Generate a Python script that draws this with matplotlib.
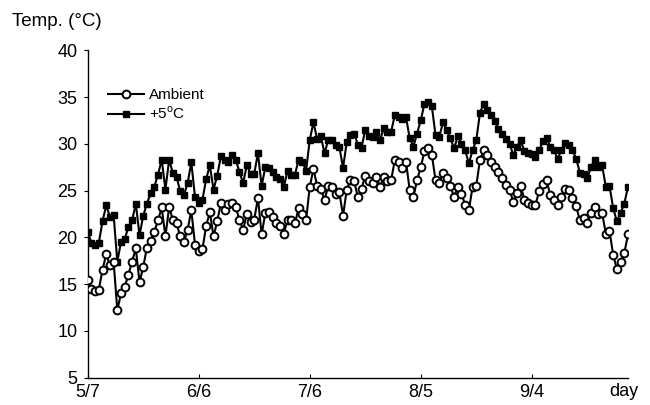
import matplotlib
matplotlib.use("Agg")
import matplotlib.pyplot as plt
import numpy as np

plt.rcParams['font.family'] = ['Liberation Sans', 'DejaVu Sans']

# Daily mean temperature, 5/7 .. 9/30 (day index 0..146)
ambient = [
    15.4, 14.5, 14.3, 14.4, 16.5, 18.2, 17.0, 17.4, 12.2, 14.0,
    14.7, 16.0, 17.4, 18.8, 15.2, 16.8, 18.9, 19.6, 20.6, 21.8,
    23.2, 20.1, 23.2, 21.9, 21.5, 20.1, 19.5, 20.8, 22.9, 19.2,
    18.5, 18.7, 21.2, 22.7, 20.1, 21.7, 23.7, 22.9, 23.6, 23.7,
    23.2, 21.9, 20.8, 22.5, 21.6, 21.9, 24.2, 20.3, 22.6, 22.7,
    22.2, 21.5, 21.2, 20.4, 21.9, 21.8, 21.5, 23.1, 22.5, 21.8,
    25.4, 27.3, 25.5, 25.2, 24.0, 25.5, 25.4, 24.6, 24.8, 22.3,
    25.1, 26.1, 26.0, 24.3, 25.2, 26.6, 26.0, 25.8, 26.4, 25.4,
    26.5, 26.0, 26.1, 28.3, 28.0, 27.4, 28.1, 25.1, 24.3, 26.1,
    27.5, 29.2, 29.5, 28.8, 26.1, 25.8, 26.9, 26.3, 25.5, 24.3,
    25.4, 24.6, 23.5, 22.9, 25.4, 25.5, 28.3, 29.3, 28.8, 28.1,
    27.5, 27.0, 26.3, 25.6, 25.1, 23.8, 24.7, 25.5, 24.0, 23.7,
    23.5, 23.5, 24.9, 25.7, 26.1, 24.5, 24.0, 23.4, 24.3, 25.2,
    25.1, 24.2, 23.3, 21.8, 22.1, 21.5, 22.6, 23.2, 22.5, 22.6,
    20.4, 20.7, 18.1, 16.6, 17.4, 18.3, 20.3,
]
plus5 = [
    20.6, 19.4, 19.2, 19.4, 21.7, 23.4, 22.2, 22.4, 17.4, 19.5,
    19.8, 21.1, 21.8, 23.6, 20.2, 22.3, 23.6, 24.7, 25.4, 26.7,
    28.3, 25.1, 28.3, 26.9, 26.5, 24.9, 24.5, 25.8, 28.0, 24.3,
    23.7, 24.0, 26.2, 27.7, 25.1, 26.6, 28.7, 28.3, 28.1, 28.8,
    28.3, 27.0, 25.8, 27.7, 26.8, 26.8, 29.0, 25.5, 27.5, 27.4,
    27.0, 26.5, 26.2, 25.4, 27.1, 26.7, 26.7, 28.3, 28.1, 27.1,
    30.4, 32.3, 30.5, 30.8, 29.0, 30.4, 30.4, 29.9, 29.7, 27.4,
    30.2, 30.9, 31.1, 29.9, 29.6, 31.5, 30.8, 30.7, 31.3, 30.4,
    31.7, 31.3, 31.3, 33.1, 32.9, 32.6, 32.9, 30.6, 29.7, 31.1,
    32.5, 34.3, 34.5, 34.0, 30.9, 30.7, 32.3, 31.5, 30.6, 29.5,
    30.8, 30.0, 29.3, 27.9, 29.3, 30.4, 33.3, 34.3, 33.6, 33.1,
    32.4, 31.6, 31.0, 30.5, 30.0, 28.8, 29.7, 30.4, 29.2, 29.0,
    28.9, 28.6, 29.3, 30.3, 30.6, 29.7, 29.3, 28.4, 29.3, 30.1,
    29.9, 29.3, 28.4, 26.9, 26.8, 26.3, 27.5, 28.3, 27.5, 27.7,
    25.4, 25.5, 23.1, 21.7, 22.6, 23.6, 25.4,
]
days = list(range(len(ambient)))
tick_days = [0, 30, 60, 90, 120]
tick_labels = ['5/7', '6/6', '7/6', '8/5', '9/4']
y_ticks = [5, 10, 15, 20, 25, 30, 35, 40]

W, H = 650, 405
fig = plt.figure(figsize=(W / 100, H / 100), dpi=100)
ax = fig.add_axes([87.7 / W, 1 - 377.5 / H, (628 - 87.7) / W, (377.5 - 50.3) / H])

ax.plot(days, plus5, color='black', lw=1.5, marker='s', ms=4.6,
        mfc='black', mec='black', label='+5$^{\\mathregular{o}}$C', zorder=3)
ax.plot(days, ambient, color='black', lw=1.5, marker='o', ms=5.6,
        mfc='white', mec='black', mew=1.4, label='Ambient', zorder=4)

ax.set_xlim(0, 146)
ax.set_ylim(5, 40)
ax.set_yticks(y_ticks)
ax.set_xticks(tick_days)
ax.set_xticklabels(tick_labels)
ax.tick_params(axis='y', direction='out', length=3, width=0.8, pad=4.5, labelsize=13)
ax.tick_params(axis='x', direction='in', length=3, width=0.8, pad=5, labelsize=13)
for s in ['top', 'right']:
    ax.spines[s].set_visible(False)
for s in ['left', 'bottom']:
    ax.spines[s].set_linewidth(1.0)

ax.annotate('day', xy=(145, 0), xycoords=('data', 'axes fraction'),
            xytext=(0, -4), textcoords='offset points', ha='center', va='top',
            fontsize=13)

fig.text(12 / W, 1 - 21 / H, 'Temp. (°C)', fontsize=13.5, ha='left', va='center')

handles, labels = ax.get_legend_handles_labels()
leg = ax.legend(handles[::-1], labels[::-1], loc='upper left',
                bbox_to_anchor=(102 / W, 1 - 82 / H), bbox_transform=fig.transFigure,
                frameon=False, numpoints=1, handlelength=2.35, handletextpad=0.3,
                labelspacing=0.2, fontsize=11, borderaxespad=0)

fig.savefig('out.png', dpi=100)
